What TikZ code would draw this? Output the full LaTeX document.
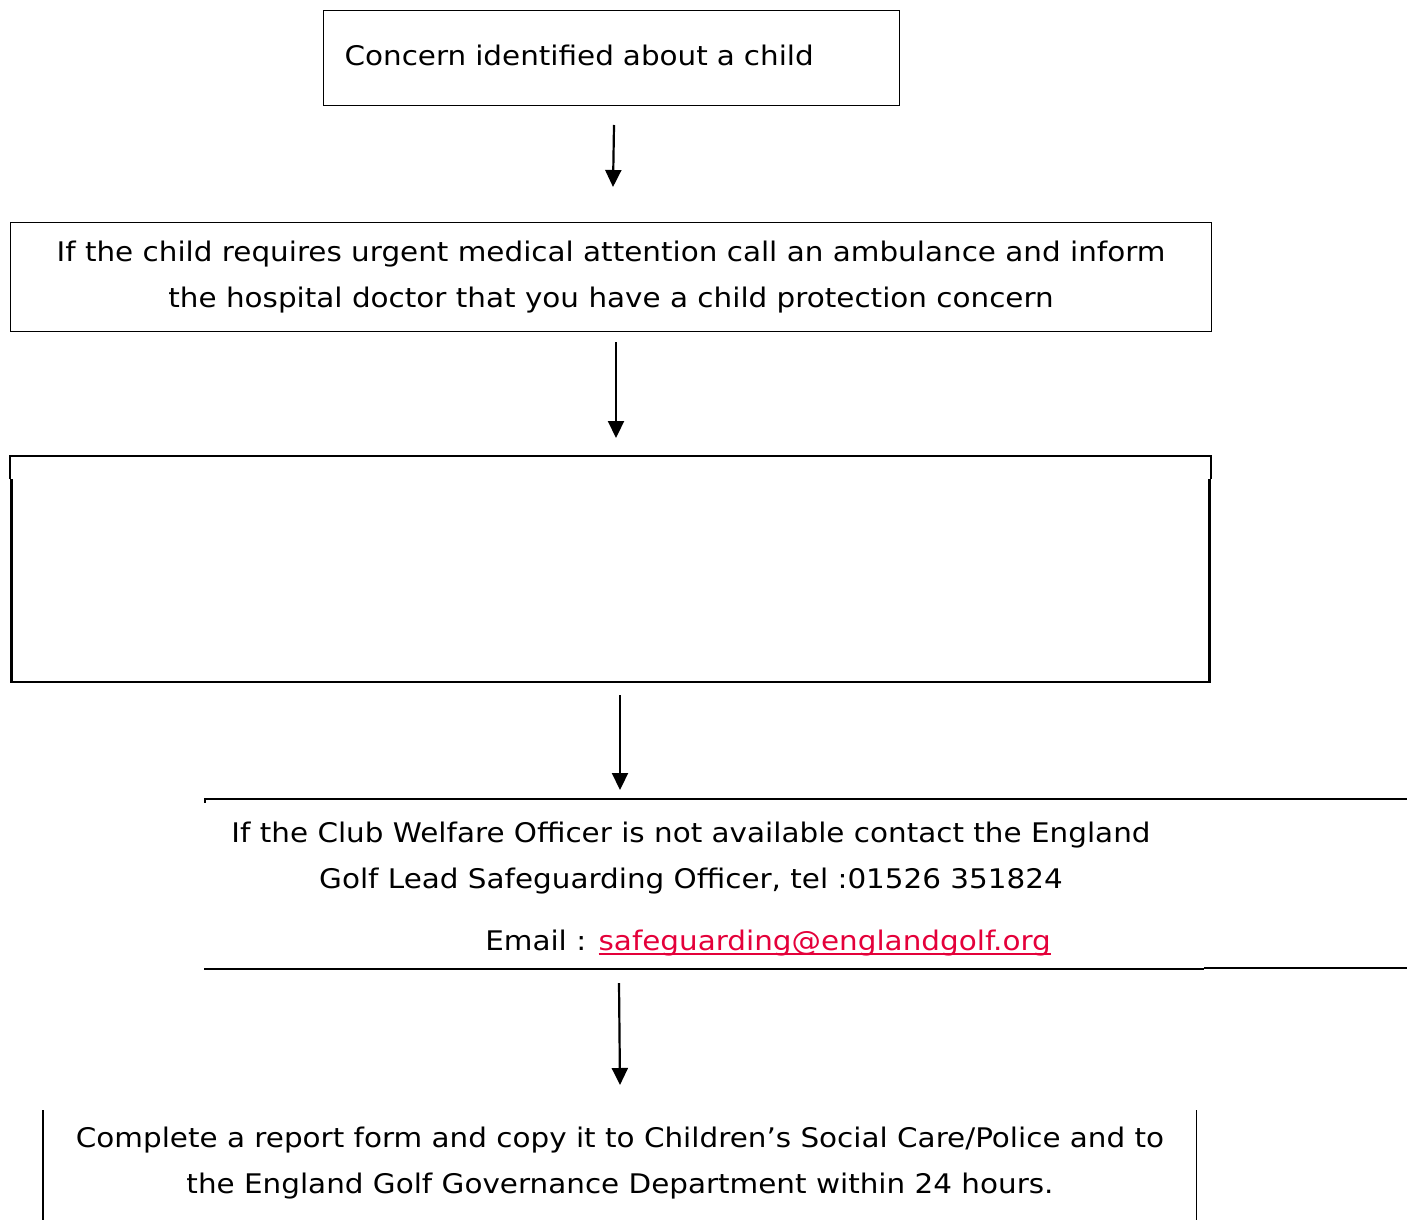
\documentclass[tikz,border=0pt]{standalone}
\usepackage{fontspec}
\setmainfont{DejaVu Sans}[FakeStretch=1.09]
\usetikzlibrary{arrows.meta}
\usepackage{calc}
\definecolor{linkred}{RGB}{228,0,58}
\newcommand{\linkul}[1]{\textcolor{linkred}{\rlap{\rule[-4.5pt]{\widthof{#1}}{1.6pt}}#1}}
\begin{document}
\begin{tikzpicture}[x=1pt,y=-1pt,
  every node/.style={font=\fontsize{27}{46}\selectfont},
  thinbox/.style={draw=black,line width=1.1pt},
  txt/.style={inner sep=0pt,align=center},
  flow/.style={line width=2.2pt,-{Triangle[width=16pt,length=17pt]}},
  thick edge/.style={line width=2.6pt},
  thin edge/.style={line width=1.2pt}]
\useasboundingbox (0,0) rectangle (1407,1220);
% box 1
\node[thinbox,anchor=north west,minimum width=576pt,minimum height=95pt,
      text width=534pt,inner xsep=21pt,text depth=6pt,align=left] (b1) at (323,10)
      {Concern identified about a child};
% box 2
\node[thinbox,anchor=north west,minimum width=1201pt,minimum height=109pt,
      inner sep=0pt,align=center] (b2) at (10,222)
      {If the child requires urgent medical attention call an ambulance and inform\\
       the hospital doctor that you have a child protection concern};
% box 3 (empty)
\node[anchor=north west,minimum width=1201pt,minimum height=227pt,inner sep=0pt] (b3) at (10,456) {};
\draw[thin edge] (10,479) -- (10,456) -- (1211,456) -- (1211,479);
\draw[thick edge] (11.5,479) -- (11.5,682) -- (1209.5,682) -- (1209.5,479);
% box 4
\node[anchor=north west,minimum width=1202pt,minimum height=170pt,inner sep=0pt] (b4) at (205,799) {};
\node[txt] (t4) at (691,858)
      {If the Club Welfare Officer is not available contact the England\\
       Golf Lead Safeguarding Officer, tel :01526 351824};
\node[txt] (t4b) at (768,943)
      {Email : \linkul{safeguarding@englandgolf.org}};
\draw[thick edge] (205,802.5) -- (205,799) -- (1407,799);
\draw[thin edge] (204,969) -- (1204,969);
\draw[thick edge] (1204,968) -- (1407,968);
% box 5
\node[anchor=north west,minimum width=1153pt,minimum height=110pt,inner sep=0pt] (b5) at (43,1110) {};
\node[txt] (t5) at (620,1163)
      {Complete a report form and copy it to Children’s Social Care/Police and to\\
       the England Golf Governance Department within 24 hours.};
\draw[thin edge] (b5.north west) -- (b5.south west);
\draw[thin edge] (b5.north east) -- (b5.south east);
% arrows
\coordinate (a1s) at (614,125);
\coordinate (a1e) at (613,187);
\draw[flow] (a1s) -- (a1e);
\coordinate (a2s) at (616,342);
\coordinate (a2e) at (616,438);
\draw[flow] (a2s) -- (a2e);
\coordinate (a3s) at (620,695);
\coordinate (a3e) at (620,790);
\draw[flow] (a3s) -- (a3e);
\coordinate (a4s) at (619,983);
\coordinate (a4e) at (620,1085);
\draw[flow] (a4s) -- (a4e);
\end{tikzpicture}
\end{document}
